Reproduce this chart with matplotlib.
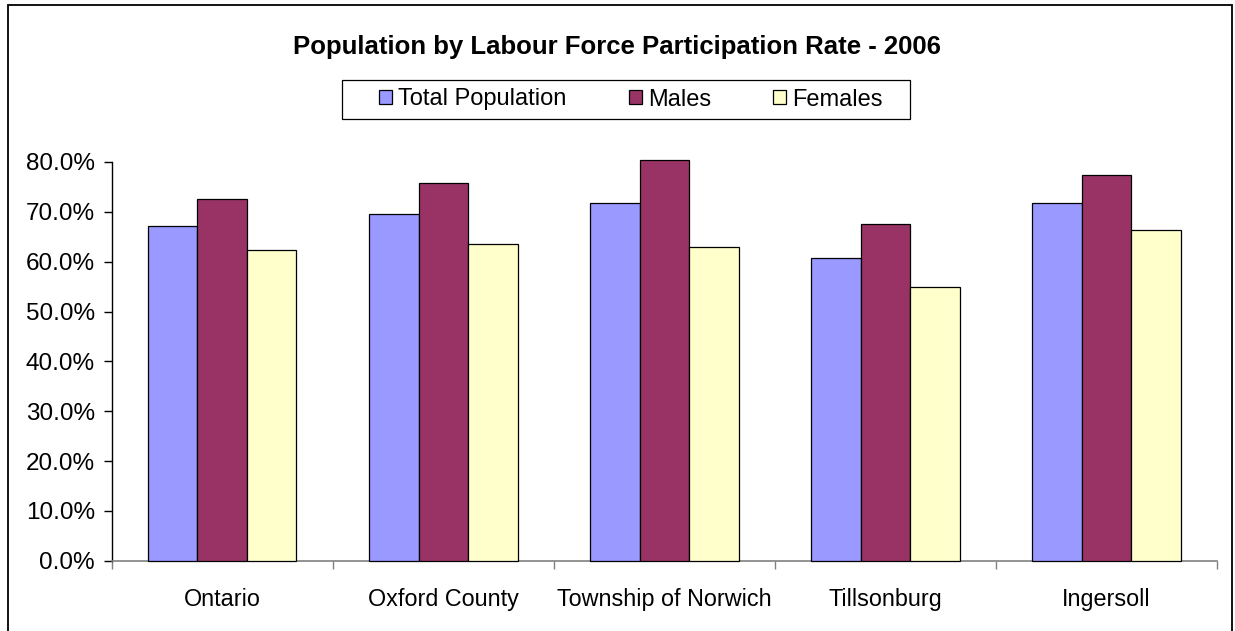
import numpy as np
import matplotlib
matplotlib.use('Agg')
import matplotlib.pyplot as plt
import matplotlib.ticker as mtick
from matplotlib.patches import Rectangle

places = ['Ontario', 'Oxford County', 'Township of Norwich', 'Tillsonburg', 'Ingersoll']
total = [67.2, 69.5, 71.7, 60.7, 71.7]
males = [72.5, 75.8, 80.3, 67.5, 77.4]
females = [62.3, 63.5, 62.9, 55.0, 66.3]
series = ['Total Population', 'Males', 'Females']
colors = ['#9999FF', '#993366', '#FFFFCC']

plt.rcParams['font.family'] = ['Liberation Sans', 'DejaVu Sans']

fig = plt.figure(figsize=(12.35, 6.31), dpi=100)
ax = fig.add_axes([0.0904, 0.1114, 0.8952, 0.6319])

# outer chart border (bottom edge falls outside the image)
fig.patches.append(Rectangle((8 / 1235, -0.01), 1224 / 1235, 1 - 5 / 631 + 0.01,
                             transform=fig.transFigure, fill=False,
                             edgecolor='black', lw=1.3))
# legend box
fig.patches.append(Rectangle((342 / 1235, 1 - 119 / 631), 568 / 1235, 39 / 631,
                             transform=fig.transFigure, fill=False,
                             edgecolor='black', lw=0.9))

x = np.arange(len(places))
w = 0.224
for i, (vals, name, c) in enumerate(zip([total, males, females], series, colors)):
    ax.bar(x + (i - 1) * w, np.array(vals) / 100, w, color=c, edgecolor='black',
           linewidth=0.9, label=name, clip_on=False, zorder=3)

ax.set_xlim(-0.5, len(places) - 0.5)
ax.set_ylim(0, 0.8)
ax.yaxis.set_major_locator(mtick.MultipleLocator(0.1))
ax.yaxis.set_major_formatter(mtick.PercentFormatter(1.0, decimals=1))

ax.set_xticks(x)
ax.set_xticklabels(places)
ax.set_xticks(np.arange(len(places) + 1) - 0.5, minor=True)
ax.tick_params(axis='x', which='major', length=0, pad=20, labelsize=16.8)
ax.tick_params(axis='x', which='minor', length=5.5, width=1, color='#808080', direction='out')
ax.tick_params(axis='y', length=6, width=1, direction='out', pad=6, labelsize=17.5)

for s in ['top', 'right']:
    ax.spines[s].set_visible(False)
ax.spines['bottom'].set_color('#808080')
ax.spines['bottom'].set_linewidth(1.2)
ax.spines['left'].set_linewidth(1.0)

fig.text(617 / 1235, 1 - 47 / 631, 'Population by Labour Force Participation Rate - 2006',
         ha='center', va='center', fontsize=18.5, fontweight='bold')

leg = ax.legend(loc='center left', bbox_to_anchor=(379 / 1235, 1 - 99.5 / 631),
                bbox_transform=fig.transFigure, ncol=3, fontsize=17,
                frameon=False, handlelength=0.55, handleheight=0.55,
                handletextpad=0.25, columnspacing=2.65, borderpad=0,
                borderaxespad=0)

fig.savefig('out.png', dpi=100)
